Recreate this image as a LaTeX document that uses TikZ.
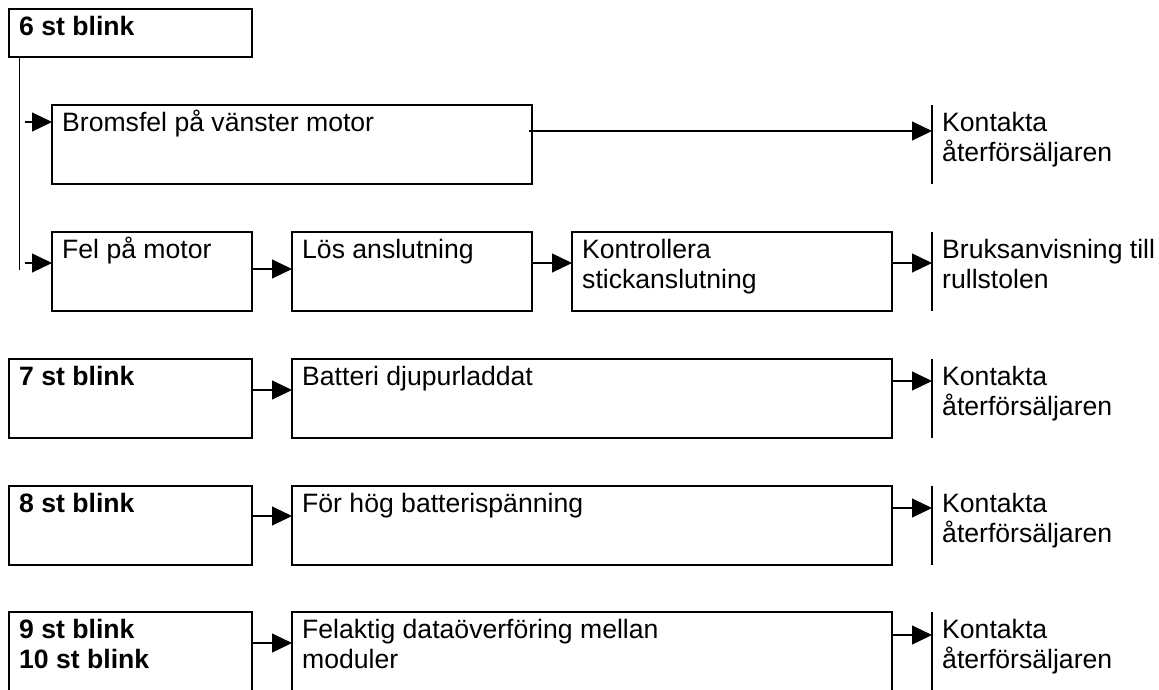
\documentclass[tikz,border=0pt]{standalone}
\usepackage{fontspec}
\setmainfont{Liberation Sans}
\usepackage{tikz}
\usetikzlibrary{arrows.meta,positioning}
\tikzset{
  blinkbox/.style={draw, line width=1.7pt, anchor=north west, inner sep=0pt, outer sep=0pt,
    minimum width=243pt, minimum height=79pt},
  causebox/.style={draw, line width=1.7pt, anchor=north west, inner sep=0pt, outer sep=0pt,
    minimum height=79pt},
  endbox/.style={anchor=north west, inner sep=0pt, outer sep=0pt, minimum width=215pt, minimum height=79pt},
  boxtext/.style={anchor=base west, inner sep=0pt, xshift=10pt, yshift=-26pt, align=left},
  twoline/.style={boxtext, yshift=-30.5pt},
  blinktext/.style={font=\fontsize{26.6pt}{30.5pt}\selectfont\bfseries},
  flow/.style={-{Triangle[length=20pt,width=19pt]}, line width=1.1pt},
  bar/.style={line width=1.4pt}
}

\begin{document}
\begin{tikzpicture}[x=1pt, y=-1pt, font=\fontsize{26.6pt}{30.5pt}\selectfont]
\path[use as bounding box, fill=white] (0,0) rectangle (1159,689);
\clip (0,0) rectangle (1159,689);

% 6 st blink
\node[blinkbox, minimum height=48pt, label={[boxtext, blinktext]north west:6 st blink}] (b6) at (9,9) {};
\node[causebox, minimum width=480pt, label={[boxtext]north west:Bromsfel på vänster motor}] (brems) at (52,105) {};
\node[endbox, right=400pt of brems, label={[twoline]north west:{Kontakta\\återförsäljaren}}] (k6a) {};
\node[causebox, minimum width=200pt, label={[boxtext]north west:Fel på motor}] (fel) at (52,232) {};
\node[causebox, minimum width=240pt, right=40pt of fel, label={[boxtext]north west:Lös anslutning}] (los) {};
\node[causebox, minimum width=320pt, right=40pt of los, label={[twoline]north west:{Kontrollera\\stickanslutning}}] (kontr) {};
\node[endbox, right=40pt of kontr, label={[twoline]north west:{Bruksanvisning till\\rullstolen}}] (k6b) {};

% 7 st blink
\node[blinkbox, label={[boxtext, blinktext]north west:7 st blink}] (b7) at (9,359) {};
\node[causebox, minimum width=600pt, right=40pt of b7, label={[boxtext]north west:Batteri djupurladdat}] (batt) {};
\node[endbox, right=40pt of batt, label={[twoline]north west:{Kontakta\\återförsäljaren}}] (k7) {};

% 8 st blink
\node[blinkbox, label={[boxtext, blinktext]north west:8 st blink}] (b8) at (9,486) {};
\node[causebox, minimum width=600pt, right=40pt of b8, label={[boxtext]north west:För hög batterispänning}] (hog) {};
\node[endbox, right=40pt of hog, label={[twoline]north west:{Kontakta\\återförsäljaren}}] (k8) {};

% 9/10 st blink
\node[blinkbox, label={[twoline, blinktext]north west:{9 st blink\\10 st blink}}] (b9) at (9,612) {};
\node[causebox, minimum width=600pt, right=40pt of b9, label={[twoline]north west:{Felaktig dataöverföring mellan\\moduler}}] (data) {};
\node[endbox, right=40pt of data, label={[twoline]north west:{Kontakta\\återförsäljaren}}] (k9) {};

\draw[line width=0.9pt] ([xshift=10pt]b6.south west) -- ++(0,213);
\draw[flow] ([xshift=-27pt,yshift=-17pt]brems.north west) -- ([yshift=-17pt]brems.north west);
\draw[flow] ([xshift=-27pt,yshift=-31pt]fel.north west) -- ([yshift=-31pt]fel.north west);
\draw[flow] ([xshift=-3pt,yshift=-26pt]brems.north east) -- ([yshift=-26pt]k6a.north west);
\draw[flow] ([yshift=-37pt]fel.north east) -- ([yshift=-37pt]los.north west);
\draw[flow] ([yshift=-31pt]los.north east) -- ([yshift=-31pt]kontr.north west);
\draw[flow] ([yshift=-31pt]kontr.north east) -- ([yshift=-31pt]k6b.north west);
\draw[flow] ([yshift=-31pt]b7.north east) -- ([yshift=-31pt]batt.north west);
\draw[flow] ([yshift=-22pt]batt.north east) -- ([yshift=-22pt]k7.north west);
\draw[flow] ([yshift=-30pt]b8.north east) -- ([yshift=-30pt]hog.north west);
\draw[flow] ([yshift=-22pt]hog.north east) -- ([yshift=-22pt]k8.north west);
\draw[flow] ([yshift=-31pt]b9.north east) -- ([yshift=-31pt]data.north west);
\draw[flow] ([yshift=-23pt]data.north east) -- ([yshift=-23pt]k9.north west);

\draw[bar] (k6a.north west) -- (k6a.south west);
\draw[bar] (k6b.north west) -- (k6b.south west);
\draw[bar] (k7.north west) -- (k7.south west);
\draw[bar] (k8.north west) -- (k8.south west);
\draw[bar] (k9.north west) -- (k9.south west);
\end{tikzpicture}
\end{document}
